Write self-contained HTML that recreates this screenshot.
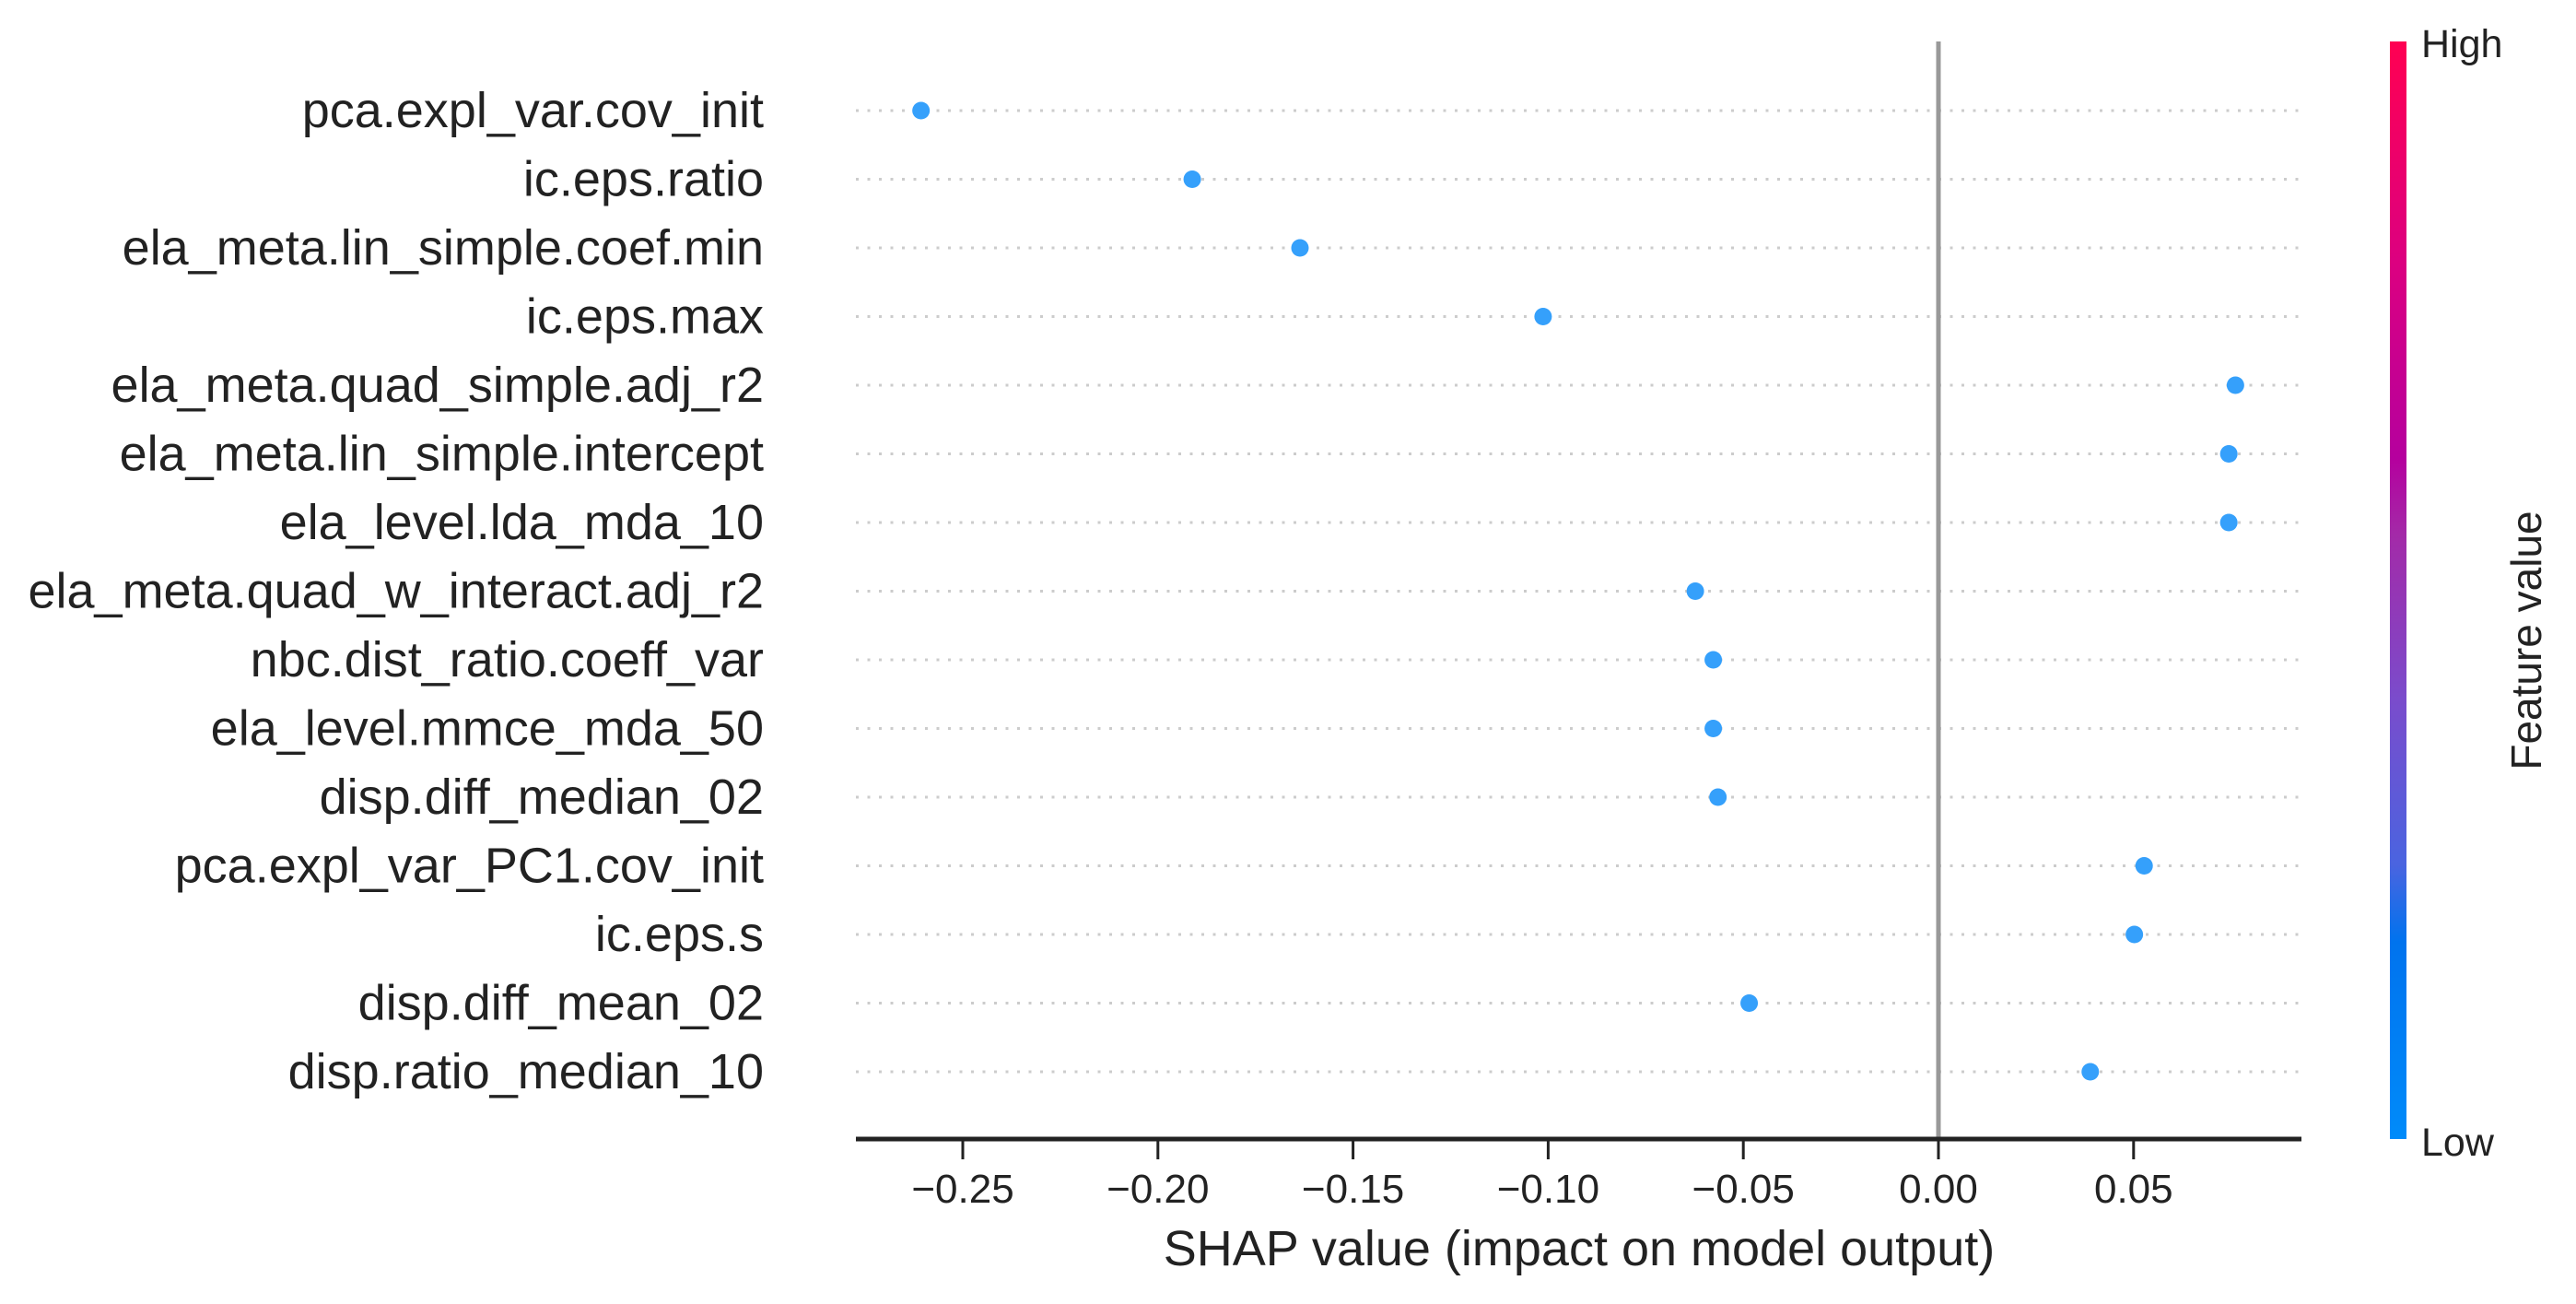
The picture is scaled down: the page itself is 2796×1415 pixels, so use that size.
<!DOCTYPE html>
<html><head><meta charset="utf-8"><style>
body{margin:0;background:#fff;}
svg{display:block;font-family:"Liberation Sans",Arial,sans-serif;}
</style></head><body>
<svg id="chart" width="2796" height="1415" viewBox="0 0 2796 1415" xmlns="http://www.w3.org/2000/svg">
<defs>
<linearGradient id="cb" x1="0" y1="1" x2="0" y2="0">
<stop offset="0" stop-color="#008bfa"/>
<stop offset="0.18" stop-color="#0073ee"/>
<stop offset="0.25" stop-color="#4a64e0"/>
<stop offset="0.4" stop-color="#7a4ccc"/>
<stop offset="0.55" stop-color="#a32aa8"/>
<stop offset="0.62" stop-color="#b5009e"/>
<stop offset="0.8" stop-color="#dc0080"/>
<stop offset="1" stop-color="#ff0052"/>
</linearGradient>
</defs>
<g id="plot"></g>
<rect x="2594" y="45" width="18" height="1191" fill="url(#cb)"/>
<text x="2628" y="62" font-size="43" fill="#222">High</text>
<text x="2628" y="1254" font-size="43" fill="#222">Low</text>
<text x="0" y="0" font-size="46" fill="#222" text-anchor="middle" transform="translate(2758,695) rotate(-90)">Feature value</text>
<text x="1714" y="1373" font-size="54" fill="#222" text-anchor="middle">SHAP value (impact on model output)</text>
</svg>
<script>
const features = ["pca.expl_var.cov_init","ic.eps.ratio","ela_meta.lin_simple.coef.min","ic.eps.max","ela_meta.quad_simple.adj_r2","ela_meta.lin_simple.intercept","ela_level.lda_mda_10","ela_meta.quad_w_interact.adj_r2","nbc.dist_ratio.coeff_var","ela_level.mmce_mda_50","disp.diff_median_02","pca.expl_var_PC1.cov_init","ic.eps.s","disp.diff_mean_02","disp.ratio_median_10"];
const shapValues = [-0.2607,-0.1912,-0.1636,-0.1013,0.0761,0.0744,0.0744,-0.0623,-0.0577,-0.0577,-0.0565,0.0527,0.0502,-0.0485,0.0389];
const tickValues = [-0.25,-0.20,-0.15,-0.10,-0.05,0.00,0.05];
const tickLabels = ["\u22120.25","\u22120.20","\u22120.15","\u22120.10","\u22120.05","0.00","0.05"];

const NS="http://www.w3.org/2000/svg";
const g=document.getElementById('plot');
const x0=2104, pxPerUnit=4236;
const xScale=v=>x0+v*pxPerUnit;
const rowTop=120, rowStep=74.5;
const yScale=i=>rowTop+i*rowStep;
const axisY=1236, left=929, right=2498;
function mk(tag,attrs){const e=document.createElementNS(NS,tag);for(const k in attrs)e.setAttribute(k,attrs[k]);g.appendChild(e);return e;}

features.forEach((f,i)=>{
  const y=yScale(i);
  const l=mk('line',{x1:left,x2:right,y1:y,y2:y,stroke:'#cccccc','stroke-width':3,'stroke-dasharray':'3 9.5'});
  
  
  const t=mk('text',{x:829,y:y+18,'font-size':54,fill:'#222','text-anchor':'end'});
  t.textContent=f;
  
  
});
const zl=mk('line',{x1:x0,x2:x0,y1:45,y2:axisY,stroke:'#999999','stroke-width':5});


shapValues.forEach((v,i)=>{
  const c=mk('circle',{cx:xScale(v),cy:yScale(i),r:9.5,fill:'#35a0fb'});
  
  
});
const ax=mk('line',{x1:left,x2:right,y1:axisY,y2:axisY,stroke:'#222','stroke-width':5});


tickValues.forEach((v,i)=>{
  const x=xScale(v);
  const tk=mk('line',{x1:x,x2:x,y1:axisY,y2:axisY+22,stroke:'#222','stroke-width':3});
  
  
  const t=mk('text',{x:x,y:1305,'font-size':44,fill:'#222','text-anchor':'middle'});
  t.textContent=tickLabels[i];
  
  
});
</script>
</body></html>
